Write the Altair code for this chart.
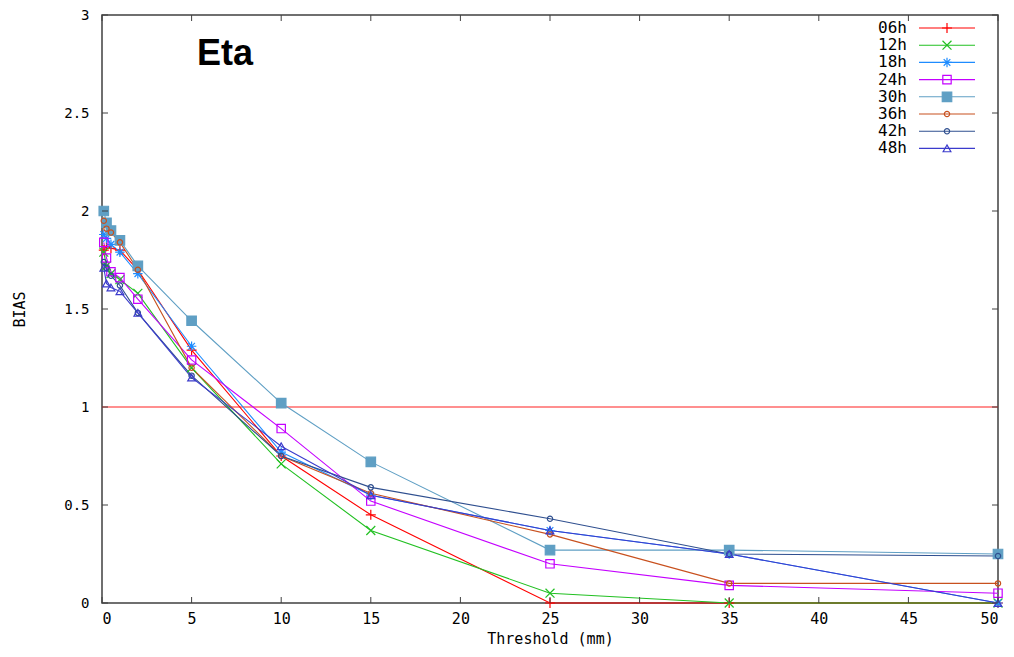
import altair as alt
import pandas as pd

# ---------------- data ----------------
thresholds = [0.1, 0.25, 0.5, 1, 2, 5, 10, 15, 25, 35, 50]
series_names = ["06h", "12h", "18h", "24h", "30h", "36h", "42h", "48h"]
bias_06h = [1.80, 1.82, 1.81, 1.80, 1.70, 1.29, 0.75, 0.45, 0.00, 0.00, 0.00]
bias_12h = [1.79, 1.72, 1.68, 1.65, 1.58, 1.20, 0.71, 0.37, 0.05, 0.00, 0.00]
bias_18h = [1.88, 1.86, 1.83, 1.79, 1.68, 1.31, 0.77, 0.55, 0.37, 0.25, 0.00]
bias_24h = [1.84, 1.76, 1.69, 1.66, 1.55, 1.24, 0.89, 0.52, 0.20, 0.09, 0.05]
bias_30h = [2.00, 1.94, 1.90, 1.85, 1.72, 1.44, 1.02, 0.72, 0.27, 0.27, 0.25]
bias_36h = [1.95, 1.91, 1.89, 1.84, 1.70, 1.20, 0.75, 0.56, 0.35, 0.10, 0.10]
bias_42h = [1.74, 1.71, 1.67, 1.62, 1.48, 1.16, 0.75, 0.59, 0.43, 0.25, 0.24]
bias_48h = [1.71, 1.63, 1.61, 1.59, 1.48, 1.15, 0.80, 0.55, 0.37, 0.25, 0.00]
all_bias = [bias_06h, bias_12h, bias_18h, bias_24h, bias_30h, bias_36h, bias_42h, bias_48h]

x_ticks = [0, 5, 10, 15, 20, 25, 30, 35, 40, 45, 50]
y_ticks = [0, 0.5, 1, 1.5, 2, 2.5, 3]
reference_bias = [1]
chart_label = "Eta"

# ---------------- styles ----------------
colors = ["#ff0000", "#22c022", "#1e8cff", "#c400ff", "#5f9fc4", "#c8501e", "#2f4f8f", "#3b3bcc"]
fills = ["transparent", "transparent", "transparent", "transparent", "#5f9fc4",
         "transparent", "transparent", "transparent"]
shapes = [
    "M-1,0L1,0M0,-1L0,1",
    "M-1,-1L1,1M-1,1L1,-1",
    "M-1,0L1,0M0,-1L0,1M-0.7,-0.7L0.7,0.7M-0.7,0.7L0.7,-0.7",
    "square",
    "square",
    "circle",
    "circle",
    "triangle-up",
]
sizes = [100, 80, 90, 70, 90, 28, 28, 60]

W, H = 896, 588
FONT = "DejaVu Sans Mono"

rows = []
for name, vals in zip(series_names, all_bias):
    for t, v in zip(thresholds, vals):
        rows.append({"series": name, "threshold": t, "bias": v})
df = pd.DataFrame(rows)

xs = alt.Scale(domain=[0, 50], nice=False, zero=False)
ys = alt.Scale(domain=[0, 3], nice=False)
col_scale = alt.Scale(domain=series_names, range=colors)
fill_scale = alt.Scale(domain=series_names, range=fills)
shape_scale = alt.Scale(domain=series_names, range=shapes)
size_scale = alt.Scale(type="ordinal", domain=series_names, range=sizes)

x_enc = alt.X("threshold:Q", scale=xs,
              axis=alt.Axis(values=x_ticks, title="Threshold (mm)", grid=False, domain=False,
                            ticks=False, labelFont=FONT, labelFontSize=15, labelColor="#000",
                            labelPadding=8, titleFont=FONT, titleFontSize=15,
                            titleFontWeight="normal", titlePadding=5, titleColor="#000"))
y_enc = alt.Y("bias:Q", scale=ys,
              axis=alt.Axis(values=y_ticks, format="~g", title="BIAS", grid=False, domain=False,
                            ticks=False, labelFont=FONT, labelFontSize=14, labelColor="#000",
                            labelPadding=13, titleFont=FONT, titleFontSize=15,
                            titleFontWeight="normal", titlePadding=36, titleColor="#000"))

ref = alt.Chart(pd.DataFrame({"v": reference_bias})).mark_rule(
    color="#ff2020", strokeWidth=1.2).encode(y=alt.Y("v:Q", scale=ys))

lines = alt.Chart(df).mark_line(strokeWidth=1.1).encode(
    x=x_enc, y=y_enc,
    color=alt.Color("series:N", scale=col_scale, legend=None),
    order="threshold:Q",
)

points = alt.Chart(df).mark_point(filled=False, strokeWidth=1.2, opacity=1).encode(
    x=alt.X("threshold:Q", scale=xs),
    y=alt.Y("bias:Q", scale=ys),
    color=alt.Color("series:N", scale=col_scale, legend=None),
    fill=alt.Fill("series:N", scale=fill_scale, legend=None),
    shape=alt.Shape("series:N", scale=shape_scale, legend=None),
    size=alt.Size("series:O", scale=size_scale, legend=None),
)

xt = pd.DataFrame({"t": x_ticks})
yt = pd.DataFrame({"t": y_ticks})
tick_color = "#404040"
xtick_b = alt.Chart(xt).mark_rule(color=tick_color).encode(
    x=alt.X("t:Q", scale=xs), y=alt.value(H), y2=alt.value(H - 6))
xtick_t = alt.Chart(xt).mark_rule(color=tick_color).encode(
    x=alt.X("t:Q", scale=xs), y=alt.value(0), y2=alt.value(6))
ytick_l = alt.Chart(yt).mark_rule(color=tick_color).encode(
    y=alt.Y("t:Q", scale=ys), x=alt.value(0), x2=alt.value(6))
ytick_r = alt.Chart(yt).mark_rule(color=tick_color).encode(
    y=alt.Y("t:Q", scale=ys), x=alt.value(W), x2=alt.value(W - 6))

label = alt.Chart(pd.DataFrame({"txt": [chart_label]})).mark_text(
    font="Liberation Sans", fontWeight="bold", fontSize=36, align="left",
    baseline="alphabetic", color="#000").encode(
    x=alt.value(95), y=alt.value(50), text="txt:N")

# legend (label left, sample right) inside the top-right corner
leg_df = pd.DataFrame({"series": series_names, "row": list(range(len(series_names)))})
leg_base = alt.Chart(leg_df).transform_calculate(
    ly="3 * (1 - (13 + 17.2 * datum.row) / 588)",
    lx_text="805 / 896 * 50",
    lx0="817 / 896 * 50",
    lx1="873 / 896 * 50",
    lxp="845 / 896 * 50",
)
leg_text = leg_base.mark_text(font=FONT, fontSize=16, align="right", baseline="middle",
                              color="#000").encode(
    x=alt.X("lx_text:Q", scale=xs), y=alt.Y("ly:Q", scale=ys), text="series:N")
leg_rule = leg_base.mark_rule(strokeWidth=1.1).encode(
    x=alt.X("lx0:Q", scale=xs), x2="lx1:Q", y=alt.Y("ly:Q", scale=ys),
    color=alt.Color("series:N", scale=col_scale, legend=None))
leg_pts = leg_base.mark_point(filled=False, strokeWidth=1.2, opacity=1).encode(
    x=alt.X("lxp:Q", scale=xs), y=alt.Y("ly:Q", scale=ys),
    color=alt.Color("series:N", scale=col_scale, legend=None),
    fill=alt.Fill("series:N", scale=fill_scale, legend=None),
    shape=alt.Shape("series:N", scale=shape_scale, legend=None),
    size=alt.Size("series:O", scale=size_scale, legend=None),
)

chart = alt.layer(
    ref, lines, points, xtick_b, xtick_t, ytick_l, ytick_r, label, leg_rule, leg_pts, leg_text
).properties(
    width=W, height=H,
    background="white",
    autosize=alt.AutoSizeParams(type="none"),
    padding={"left": 94, "top": 7, "right": 6, "bottom": 45},
).configure_view(stroke="#404040", strokeWidth=1.5)

chart.save("out.html", embed_options={"renderer": "svg", "actions": False})
